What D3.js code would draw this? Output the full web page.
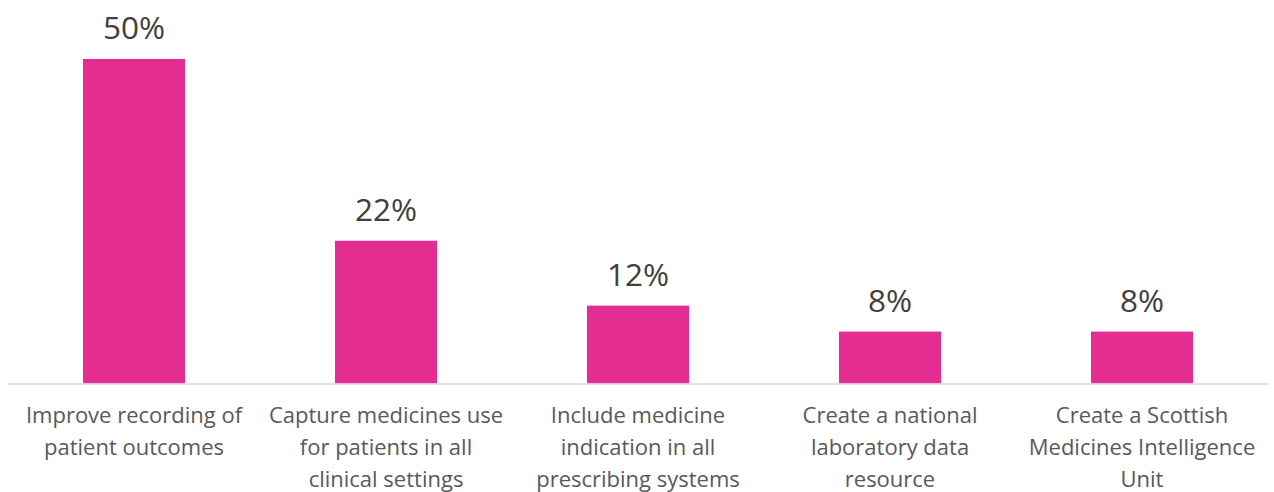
<!DOCTYPE html>
<html>
<head>
<meta charset="utf-8">
<script src="https://cdn.jsdelivr.net/npm/d3@7"></script>
<style>
  html, body { margin: 0; padding: 0; background: #fff; }
  svg { display: block; }
</style>
</head>
<body>
<svg id="chart" width="1274" height="492"></svg>
<script>
// Survey priorities: share of respondents choosing each option
const categories = [
  "Improve recording of\npatient outcomes",
  "Capture medicines use\nfor patients in all\nclinical settings",
  "Include medicine\nindication in all\nprescribing systems",
  "Create a national\nlaboratory data\nresource",
  "Create a Scottish\nMedicines Intelligence\nUnit"
];
const values = [50, 22, 12, 8, 8];
const valueLabels = ["50%", "22%", "12%", "8%", "8%"];

const svg = d3.select("#chart");
const fontFamily = "'Open Sans', Lato, sans-serif";

const x = d3.scaleBand()
  .domain(categories)
  .range([8, 1268])
  .paddingInner(0.595)
  .paddingOuter(0.2975);

const y = d3.scaleLinear()
  .domain([0, 50])
  .range([383.5, 59]);

// bars
svg.append("g")
  .selectAll("rect")
  .data(values)
  .join("rect")
  .attr("x", (d, i) => x(categories[i]))
  .attr("y", d => y(d))
  .attr("width", x.bandwidth())
  .attr("height", d => y(0) - y(d))
  .attr("fill", "#E32D91");

// value labels
svg.append("g")
  .selectAll("text")
  .data(values)
  .join("text")
  .attr("x", (d, i) => x(categories[i]) + x.bandwidth() / 2)
  .attr("y", d => y(d) - 20)
  .attr("text-anchor", "middle")
  .attr("font-family", fontFamily)
  .attr("font-size", 31.5)
  .attr("fill", "#404040")
  .text((d, i) => valueLabels[i]);

// category axis
const axis = d3.axisBottom(x).tickSize(0).tickFormat("");
const gx = svg.append("g")
  .attr("transform", `translate(0,${y(0)})`)
  .call(axis);
gx.select(".domain").attr("stroke", "#D9D9D9").attr("stroke-width", 1.5);

gx.selectAll(".tick").each(function(d) {
  const t = d3.select(this).append("text")
    .attr("text-anchor", "middle")
    .attr("font-family", fontFamily)
    .attr("font-size", 22)
    .attr("fill", "#595959");
  d.split("\n").forEach((line, i) => {
    t.append("tspan").attr("x", 0).attr("y", 39 + i * 32).text(line);
  });
});
</script>
</body>
</html>
